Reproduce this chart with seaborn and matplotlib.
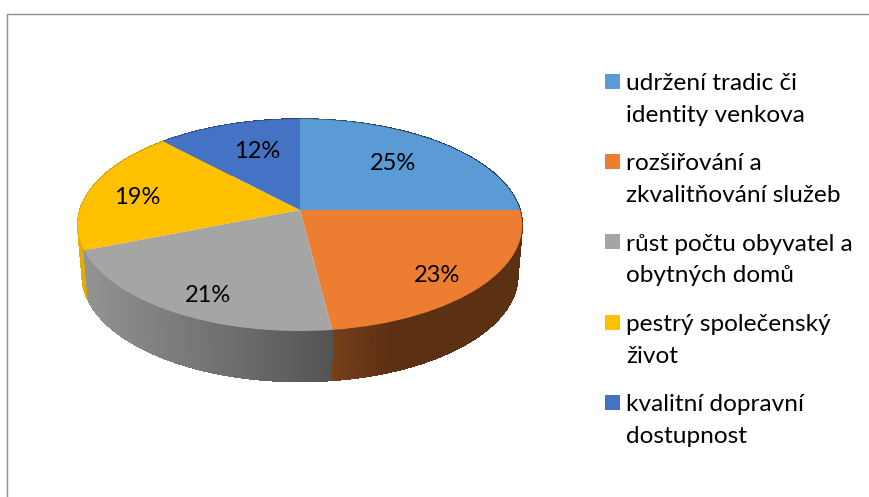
import numpy as np
import matplotlib
matplotlib.use("Agg")
import matplotlib.pyplot as plt
import seaborn as sns
from matplotlib.collections import PolyCollection
from matplotlib.legend_handler import HandlerPatch
from matplotlib.lines import Line2D
from matplotlib.patches import Patch, Rectangle
from matplotlib.transforms import Transform

categories = [
    "udržení tradic či\nidentity venkova",
    "rozšiřování a\nzkvalitňování služeb",
    "růst počtu obyvatel a\nobytných domů",
    "pestrý společenský\nživot",
    "kvalitní dopravní\ndostupnost",
]
values = [25, 23, 21, 19, 12]
colors = ["#5B9BD5", "#ED7D31", "#A5A5A5", "#FFC000", "#4472C4"]
label_positions_px = [(393, 163), (437, 275), (208, 295), (137, 197), (257, 152)]

W, H = 870, 497
APEX_X, APEX_Y = 300, 210
RX, RY, TILT = 220.0, 103.9, 0.1415
DEPTH, BOTTOM_SCALE = 50.5, 0.98

sns.set_theme(style="white")
plt.rcParams["font.family"] = ["Lato", "DejaVu Sans"]


class Tilted(Transform):
    """Perspective view of the unit disc, in pixels around the pie's apex."""
    input_dims = output_dims = 2
    is_affine = False

    def transform_non_affine(self, xy):
        xy = np.asarray(xy, dtype=float)
        d = 1 + TILT * xy[:, 1]
        return np.column_stack([RX * xy[:, 0] / d, RY * xy[:, 1] / d])


tilted = Tilted()
fig = plt.figure(figsize=(W / 100, H / 100), dpi=100, facecolor="white")
ax = fig.add_axes([0, 0, 1, 1])

wedges, _, autotexts = ax.pie(
    values, colors=colors, startangle=90, counterclock=False,
    autopct=lambda p: f"{p:.0f}%", textprops={"fontsize": 17, "color": "black"},
    wedgeprops={"linewidth": 0, "zorder": 5},
)
ax.set_aspect("auto")
ax.set_xlim(-APEX_X, W - APEX_X)
ax.set_ylim(APEX_Y - H, APEX_Y)
ax.axis("off")

for w in wedges:
    w.set_transform(tilted + ax.transData)
for t, (px, py) in zip(autotexts, label_positions_px):
    t.set_position((px - APEX_X, APEX_Y - py))
    t.set_zorder(10)


def shade(x_px):
    return np.interp(x_px, [78, 328, 390, 530], [0.90, 0.515, 0.39, 0.39])


# side wall: back slices first so nearer ones overlap them
order = sorted(range(len(wedges)), key=lambda i: -np.sin(np.deg2rad((wedges[i].theta1 + wedges[i].theta2) / 2)))
for i in order:
    w = wedges[i]
    th = np.deg2rad(np.linspace(w.theta1, w.theta2, 160))
    top = tilted.transform_non_affine(np.column_stack([np.cos(th), np.sin(th)]))
    bot = np.column_stack([top[:, 0] * BOTTOM_SCALE, top[:, 1] - DEPTH])
    quads = [[top[k], top[k + 1], bot[k + 1], bot[k]] for k in range(len(th) - 1)]
    mids = (top[:-1, 0] + top[1:, 0]) / 2 + APEX_X
    base = np.array(matplotlib.colors.to_rgb(w.get_facecolor()[:3]))
    cols = [tuple(base * shade(m)) for m in mids]
    ax.add_collection(PolyCollection(quads, facecolors=cols, edgecolors=cols, linewidths=0.5,
                                     antialiaseds=False, zorder=2 + 0.01 * order.index(i)))


def square(legend, orig_handle, xdescent, ydescent, width, height, fontsize):
    return Rectangle((0, 13.8), 10.8, 10.8)


handles = [Patch(facecolor=c, edgecolor="none") for c in colors]
leg = ax.legend(
    handles, categories, handler_map={Patch: HandlerPatch(patch_func=square)},
    loc="upper left", bbox_to_anchor=(605 / W, 1 - 73 / H), frameon=False,
    fontsize=17.6, handlelength=0.617, handletextpad=0.25, labelspacing=1.13,
    borderpad=0, borderaxespad=0,
)
for t in leg.get_texts():
    t.set_linespacing(1.63)
    t.set_color("black")

for line in (Line2D([7.5 / W, 7.5 / W], [0, 1 - 13.5 / H]), Line2D([7.5 / W, 1], [1 - 13.5 / H, 1 - 13.5 / H])):
    line.set(color="#8E8E8E", linewidth=1.0, transform=fig.transFigure)
    fig.add_artist(line)

fig.savefig("out.png", dpi=100, facecolor="white")
